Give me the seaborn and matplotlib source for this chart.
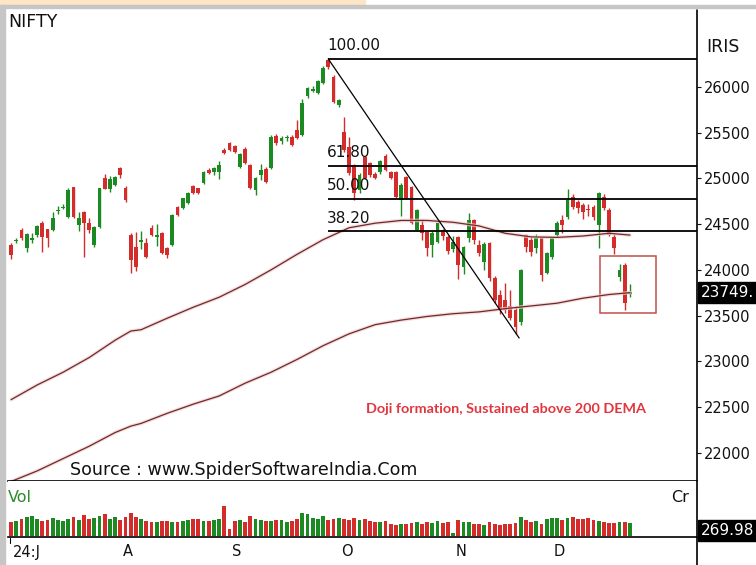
import matplotlib
matplotlib.use("Agg")
import matplotlib.pyplot as plt
import matplotlib.transforms as mtransforms
from matplotlib.patches import Rectangle
from matplotlib.lines import Line2D
import seaborn as sns
import pandas as pd
import numpy as np

# NIFTY daily candles, 2 Jul 2024 .. 23 Dec 2024
opens = [24270, 24310, 24435, 24240, 24330, 24380, 24510, 24445, 24435, 24640,
         24675, 24580, 24905, 24490, 24630, 24510, 24270, 24470, 25000, 24880,
         24930, 25110, 24895, 24380, 24250, 24300, 24290, 24460, 24360, 24400,
         24240, 24270, 24690, 24675, 24730, 24920, 24895, 24950, 25090, 25070,
         25070, 25310, 25385, 25355, 25125, 25320, 25145, 24870, 25040, 25100,
         25115, 25465, 25410, 25440, 25450, 25530, 25475, 25900, 25960, 25935,
         26045, 26295, 26110, 25800, 25510, 25345, 25145, 24875, 25235, 25170,
         25050, 25070, 25245, 25070, 25070, 24765, 25015, 24905, 24435, 24490,
         24415, 24270, 24305, 24435, 24360, 24230, 24360, 24030, 24350, 24545,
         24270, 24090, 24290, 23910, 23725, 23670, 23605, 23560, 23430, 24380,
         24330, 24240, 24345, 23965, 24140, 24380, 24545, 24580, 24800, 24745,
         24710, 24660, 24690, 24490, 24800, 24655, 24360, 23920, 24050, 23740]
highs = [24293, 24350, 24460, 24400, 24400, 24490, 24530, 24450, 24630, 24700,
         24720, 24900, 24910, 24630, 24640, 24570, 24480, 24900, 25050, 25030,
         25030, 25130, 24920, 24400, 24410, 24420, 24350, 24490, 24500, 24410,
         24250, 24610, 24700, 24790, 24850, 24930, 24900, 25080, 25110, 25130,
         25190, 25330, 25400, 25370, 25280, 25340, 25160, 25010, 25160, 25120,
         25480, 25490, 25460, 25480, 25470, 25640, 25870, 26000, 26010, 26080,
         26230, 26317, 26130, 25870, 25670, 25450, 25160, 25060, 25250, 25180,
         25070, 25200, 25270, 25080, 25080, 24950, 25030, 24920, 24670, 24560,
         24430, 24420, 24520, 24450, 24380, 24370, 24370, 24260, 24625, 24560,
         24330, 24300, 24300, 23930, 23780, 23860, 23780, 23600, 24010, 24390,
         24360, 24390, 24360, 24200, 24360, 24530, 24600, 24885, 24830, 24760,
         24730, 24720, 24710, 24850, 24830, 24680, 24390, 24060, 24070, 23850]
lows = [24118, 24290, 24330, 24200, 24290, 24360, 24195, 24250, 24420, 24610,
        24660, 24570, 24570, 24420, 24140, 24400, 24250, 24460, 24880, 24850,
        24920, 25000, 24740, 23965, 23990, 24230, 24130, 24370, 24260, 24170,
        24130, 24260, 24590, 24665, 24720, 24830, 24830, 24940, 25050, 25040,
        24990, 25270, 25300, 25280, 25110, 25160, 24880, 24820, 24980, 24950,
        25100, 25370, 25380, 25410, 25350, 25430, 25460, 25880, 25940, 25920,
        26030, 26200, 25820, 25780, 25290, 25040, 24760, 24840, 24990, 25020,
        24990, 25050, 25080, 24990, 24790, 24590, 24780, 24500, 24420, 24330,
        24150, 24140, 24290, 24330, 24170, 24200, 23900, 23950, 24300, 24280,
        24150, 24000, 23880, 23640, 23520, 23530, 23450, 23300, 23400, 24200,
        24150, 24180, 23880, 23950, 24120, 24360, 24400, 24560, 24660, 24620,
        24560, 24590, 24540, 24240, 24650, 24370, 24170, 23880, 23560, 23700]
closes = [24160, 24330, 24350, 24390, 24345, 24480, 24360, 24348, 24567, 24655,
          24690, 24870, 24580, 24565, 24510, 24435, 24470, 24895, 24885, 24990,
          25015, 25040, 24760, 24110, 24030, 24330, 24140, 24380, 24380, 24180,
          24160, 24600, 24600, 24785, 24840, 24840, 24840, 25070, 25060, 25110,
          25150, 25280, 25310, 25290, 25270, 25170, 24895, 25000, 25090, 24960,
          25450, 25390, 25440, 25450, 25365, 25440, 25825, 25990, 25975, 26065,
          26210, 26220, 25835, 25855, 25310, 25060, 24840, 25040, 25005, 25040,
          25005, 25190, 25090, 25005, 24800, 24930, 24785, 24510, 24650, 24400,
          24240, 24400, 24510, 24370, 24210, 24300, 24050, 24250, 24545, 24325,
          24185, 24280, 23910, 23670, 23560, 23560, 23475, 23375, 23995, 24250,
          24200, 24345, 23945, 24185, 24345, 24510, 24490, 24765, 24690, 24680,
          24630, 24650, 24580, 24840, 24675, 24380, 24240, 23995, 23640, 23760]
# volume, Rs crore
volumes = [290, 320, 360, 390, 420, 350, 310, 340, 370, 340, 320, 360, 390, 330, 450, 350, 370, 420, 460, 360, 390,
           340, 400, 480, 390, 350, 310, 300, 290, 310, 320, 300, 290, 310, 330, 350, 360, 320, 310, 340, 350, 620,
           140, 320, 330, 300, 420, 360, 330, 320, 310, 340, 330, 300, 320, 350, 480, 460, 380, 350, 420, 330, 360,
           380, 360, 340, 370, 330, 350, 310, 300, 290, 310, 260, 240, 250, 260, 280, 300, 260, 300, 280, 320, 270, 300,
           60, 330, 290, 300, 250, 260, 240, 300, 250, 240, 260, 250, 280, 400, 330, 300, 320, 260, 350,
           380, 370, 340, 380, 400, 350, 360, 380, 330, 310, 300, 280, 270, 300, 290, 270]

# moving averages read at every 5th bar
ma_idx = [0, 5, 10, 15, 20, 23, 25, 30, 35, 40, 45, 50, 55, 60, 65, 70, 75, 80, 85, 90, 95, 100, 105, 110, 115, 119]
dema_100 = [22580, 22740, 22880, 23040, 23230, 23330, 23345, 23470, 23590, 23700, 23840, 24000, 24170,
            24330, 24460, 24510, 24540, 24540, 24520, 24480, 24400, 24360, 24355, 24370, 24400, 24380]
dema_200 = [21685, 21800, 21935, 22070, 22220, 22290, 22320, 22430, 22530, 22620, 22760, 22880, 23020,
            23170, 23300, 23400, 23450, 23490, 23520, 23540, 23575, 23605, 23635, 23690, 23730, 23750]

# fibonacci retracement of the Sep-Nov fall
fib_high, fib_low = 26306, 23254
fib_high_idx, fib_low_idx = 61, 97.7
fib_levels = [100.0, 61.8, 50.0, 38.2]

month_idx = [0, 21, 42, 63, 85, 104]
month_labels = ['24:J', 'A', 'S', 'O', 'N', 'D']
price_ticks = [22000, 22500, 23000, 23500, 24000, 24500, 25000, 25500, 26000]

GREEN = '#1c8a22'
RED = '#d42b2b'
W, H = 756, 565


def box(x0, y0, x1, y1):
    """pixel box (y from top) -> figure fraction rect"""
    return [x0 / W, 1 - y1 / H, (x1 - x0) / W, (y1 - y0) / H]


sns.set_theme(style='white')
plt.rcParams['font.family'] = ['DejaVu Sans']

df = pd.DataFrame({'o': opens, 'h': highs, 'l': lows, 'c': closes, 'v': volumes})
df['idx'] = np.arange(len(df))
cols = np.where(df['c'] >= df['o'], GREEN, RED)

fig = plt.figure(figsize=(W / 100, H / 100), dpi=100)
fig.patch.set_facecolor('white')
ax = fig.add_axes(box(8, 8, 697, 481))
axv = fig.add_axes(box(8, 481, 697, 537), sharex=ax)

# candles
ax.vlines(df['idx'], df['l'], df['h'], colors=cols, linewidth=1)
body_lo = np.minimum(df['o'], df['c'])
body_h = np.maximum((df['c'] - df['o']).abs(), 14)
ax.bar(df['idx'], body_h, bottom=body_lo, width=0.76, color=cols, linewidth=0)

# moving averages (pink halo + dark line)
ma = pd.DataFrame({'idx': ma_idx, 'd100': dema_100, 'd200': dema_200})
for col in ['d100', 'd200']:
    sns.lineplot(data=ma, x='idx', y=col, ax=ax, color='#f2cccc', linewidth=2.6, alpha=0.7)
    sns.lineplot(data=ma, x='idx', y=col, ax=ax, color='#6e2a2a', linewidth=0.9)

# fib lines + labels
for pct in fib_levels:
    lvl = fib_low + pct / 100 * (fib_high - fib_low)
    ax.hlines(lvl, fib_high_idx, 132, color='black', linewidth=1.3)
    ax.annotate(f'{pct:.2f}', (fib_high_idx - 0.2, lvl), xytext=(0, 4), textcoords='offset points',
                ha='left', va='bottom', fontsize=11, color='#111111')
ax.plot([fib_high_idx, fib_low_idx], [fib_high, fib_low], color='black', linewidth=0.9)

# highlight box around the doji
ax.add_patch(Rectangle((113.3, 23527), 10.7, 623, fill=False, edgecolor='#c0504d', linewidth=1.1))
ax.text(95.2, 22473, 'Doji formation, Sustained above 200 DEMA', color='#e2363f',
        fontsize=10.4, fontweight='bold', family=['Lato', 'DejaVu Sans'], ha='center', va='center')

ax.set_xlim(-0.6, 131.9)
ax.set_ylim(21690, 26864)
ax.set_xlabel('')
ax.set_ylabel('')
ax.yaxis.tick_right()
ax.set_yticks(price_ticks)
ax.set_yticklabels([str(t) for t in price_ticks])
ax.tick_params(axis='y', right=True, length=3, width=0.8, direction='out', pad=2,
               labelsize=10.5, colors='#111111')
ax.tick_params(axis='x', bottom=False, labelbottom=False)
for s in ['top', 'left', 'right']:
    ax.spines[s].set_visible(False)
ax.spines['bottom'].set_color('black')
ax.spines['bottom'].set_linewidth(1.2)

# volume pane
axv.bar(df['idx'], df['v'], width=0.75, color=cols, linewidth=0)
axv.set_ylim(-21, 1155)
axv.set_yticks([])
axv.tick_params(axis='x', bottom=False, labelbottom=False)
for s in ['top', 'left', 'right']:
    axv.spines[s].set_visible(False)
axv.spines['bottom'].set_color('black')
axv.spines['bottom'].set_linewidth(1.2)

trans = mtransforms.blended_transform_factory(axv.transData, fig.transFigure)
for i, lab in zip(month_idx, month_labels):
    axv.text(i + 0.4, 1 - 552 / H, lab, transform=trans, ha='left', va='center',
             fontsize=10.5, color='#111111')
fig.add_artist(Line2D([10 / W, 10 / W], [1 - 538 / H, 1 - 543 / H], color='black', linewidth=0.8))

# frame bits: right axis line, top/left border, top band
fig.add_artist(Line2D([697 / W, 697 / W], [1 - 10 / H, 0], color='black', linewidth=1.2))
fig.add_artist(Rectangle((0, 1 - 5 / H), 365 / W, 5 / H, transform=fig.transFigure, color='#fde6c6', zorder=5))
fig.add_artist(Rectangle((0, 1 - 8 / H), 1, 3 / H, transform=fig.transFigure, color='#c6c6c6', zorder=5))
fig.add_artist(Rectangle((0, 0), 5 / W, 1 - 5 / H, transform=fig.transFigure, color='#c6c6c6', zorder=5))

# texts
fig.text(8 / W, 1 - 22 / H, 'NIFTY', fontsize=12.5, va='center', color='#111111')
fig.text(706 / W, 1 - 47 / H, 'IRIS', fontsize=12.5, va='center', color='#111111')
fig.text(70 / W, 1 - 470 / H, 'Source : www.SpiderSoftwareIndia.Com', fontsize=12.6, va='center', color='#111111')
fig.text(8 / W, 1 - 497 / H, 'Vol', fontsize=11.5, va='center', color='#2e8b2e')
fig.text(671 / W, 1 - 497 / H, 'Cr', fontsize=11.5, va='center', color='#111111')

# last value boxes
fig.add_artist(Rectangle((698 / W, 1 - 303 / H), 58 / W, 21 / H, transform=fig.transFigure, color='black', zorder=6))
fig.text(701 / W, 1 - 292.5 / H, '23749.', fontsize=11, va='center', color='white', zorder=7)
fig.add_artist(Rectangle((698 / W, 1 - 541 / H), 58 / W, 21 / H, transform=fig.transFigure, color='black', zorder=6))
fig.text(701 / W, 1 - 530.5 / H, '269.98', fontsize=11, va='center', color='white', zorder=7)

fig.savefig('out.png', dpi=100)
